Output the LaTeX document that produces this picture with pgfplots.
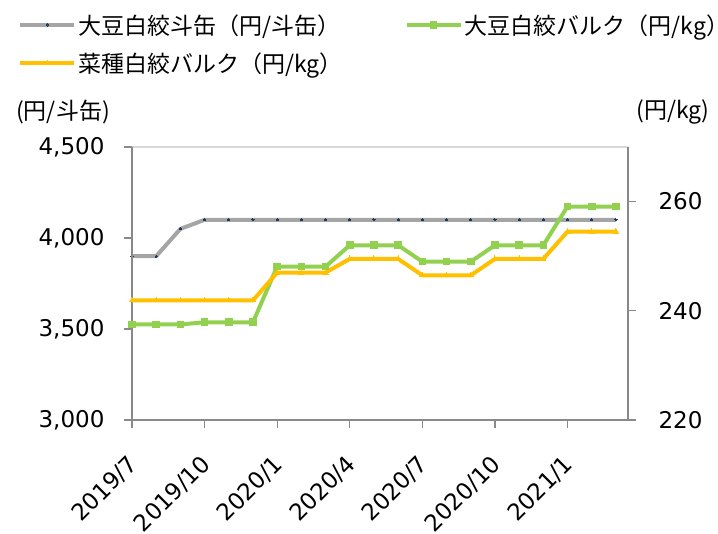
\documentclass[border=0pt]{standalone}
\usepackage{fontspec}
\setmainfont{DejaVu Sans}
\newfontfamily\cjk{Noto Sans CJK JP}
\usepackage{pgfplots}
\pgfplotsset{compat=1.18}

\definecolor{sgray}{HTML}{A5A5A5}
\definecolor{sgreen}{HTML}{92D050}
\definecolor{sorange}{HTML}{FFC000}
\definecolor{axgray}{HTML}{898989}
\definecolor{boxgray}{HTML}{D9D9D9}
\definecolor{navy}{HTML}{1F3864}

\pgfplotsset{
  base/.style={
    scale only axis, width=496pt, height=273pt,
    at={(0,0)}, anchor=south west,
    xmin=0, xmax=20.5,
    axis line style={draw=none},
    tick align=outside, major tick length=8pt,
    tick style={axgray, line width=1.2pt},
    ticklabel style={font=\fontsize{23}{28}\selectfont},
    /pgf/number format/assume math mode=true,
    clip=false,
  },
  ser/.style={line width=4pt, line join=round},
}

\begin{document}
\begin{tikzpicture}
\useasboundingbox (-132pt,-114pt) rectangle (586pt,420pt);

% left axis: 大豆白絞斗缶 (円/斗缶)
\begin{axis}[base,
  ymin=3000, ymax=4500, ytick={3000,3500,4000,4500},
  ytick pos=left, xtick pos=lower,
  yticklabel style={/pgf/number format/1000 sep={,}},
  xtick={0,3,...,18},
  xticklabels={2019/7,2019/10,2020/1,2020/4,2020/7,2020/10,2021/1},
  xticklabel style={xshift=4pt, rotate=45, anchor=east},
  xticklabel shift=30pt,
  yticklabel shift=16pt,
  after end axis/.code={
    \draw[boxgray, line width=1.2pt] (rel axis cs:0,1) -- (rel axis cs:1,1);
    \draw[axgray, line width=1.5pt] (rel axis cs:0,1) -- (rel axis cs:0,0) -- (rel axis cs:1,0);
    \node[font=\cjk\fontsize{23}{28}\selectfont] at ([xshift=-69pt, yshift=35pt]rel axis cs:0,1) {(円/斗缶)};
  },
]
\addplot[ser, sgray, mark=*, mark size=1.1pt, mark options={fill=navy, draw=navy, line width=0pt}]
coordinates {
(0,3900) (1,3900) (2,4050) (3,4100) (4,4100) (5,4100) (6,4100)
(7,4100) (8,4100) (9,4100) (10,4100) (11,4100) (12,4100) (13,4100)
(14,4100) (15,4100) (16,4100) (17,4100) (18,4100) (19,4100) (20,4100)
};
\end{axis}

% right axis: バルク (円/kg)
\begin{axis}[base,
  ymin=220, ymax=270, ytick={220,240,260},
  ytick pos=right, yticklabel pos=right,
  xtick=\empty,
  yticklabel shift=19pt,
  after end axis/.code={
    \draw[axgray, line width=1.5pt] (rel axis cs:1,0) -- (rel axis cs:1,1);
    \node[font=\cjk\fontsize{23}{28}\selectfont] at ([xshift=45pt, yshift=35pt]rel axis cs:1,1) {(円/kg)};
  },
  legend columns=2,
  legend cell align=left,
  legend style={at={(axis description cs:-0.2298,1.494)}, anchor=north west,
    draw=none, fill=none, inner sep=0pt, row sep=13pt,
    nodes={inner sep=2pt},
    font=\cjk\fontsize{23}{28}\selectfont,
    /tikz/every even column/.append style={column sep=60pt}},
  legend image code/.code={
    \draw[mark repeat=2, mark phase=2, #1] plot coordinates {(0pt,0pt) (27pt,0pt) (54pt,0pt)};
  },
]
\addlegendimage{ser, sgray, mark=*, mark size=1.1pt, mark options={fill=navy, draw=navy, line width=0pt}}
\addlegendentry{大豆白絞斗缶（円/斗缶）}
\addplot[ser, sgreen, mark=square*, mark size=3.3pt, mark options={line width=0pt}]
coordinates {
(0,237.5) (1,237.5) (2,237.5) (3,237.9) (4,237.9) (5,237.9) (6,248.1)
(7,248.1) (8,248.1) (9,252.0) (10,252.0) (11,252.0) (12,249.0) (13,249.0)
(14,249.0) (15,252.0) (16,252.0) (17,252.0) (18,259.1) (19,259.1) (20,259.1)
};
\addlegendentry{大豆白絞バルク（円/kg）}
\addplot[ser, sorange, mark=triangle*, mark size=3pt, mark options={line width=0pt}]
coordinates {
(0,241.9) (1,241.9) (2,241.9) (3,241.9) (4,241.9) (5,241.9) (6,247.0)
(7,247.0) (8,247.0) (9,249.5) (10,249.5) (11,249.5) (12,246.5) (13,246.5)
(14,246.5) (15,249.5) (16,249.5) (17,249.5) (18,254.5) (19,254.5) (20,254.5)
};
\addlegendentry{菜種白絞バルク（円/kg）}
\end{axis}
\end{tikzpicture}
\end{document}
